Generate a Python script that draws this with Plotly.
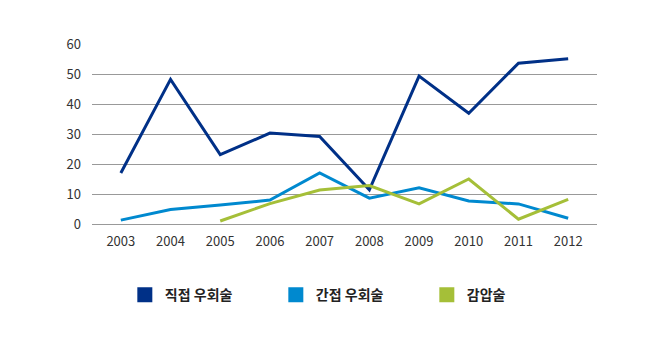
import plotly.graph_objects as go

years = ["2003", "2004", "2005", "2006", "2007", "2008", "2009", "2010", "2011", "2012"]
direct = [17, 48.2, 23.1, 30.3, 29.2, 11.4, 49.3, 36.9, 53.6, 55.1]
indirect = [1.3, 4.8, 6.3, 8.0, 17.0, 8.6, 12.1, 7.7, 6.7, 1.9]
decomp = [None, None, 1.0, 6.8, 11.3, 12.8, 6.7, 15.0, 1.6, 8.2]

names = ["직접 우회술", "간접 우회술", "감압술"]
colors = ["#003087", "#0089CF", "#A5BF38"]
series = [direct, indirect, decomp]

fig = go.Figure()
for n, c, s in zip(names, colors, series):
    fig.add_trace(go.Scatter(x=years, y=s, mode="lines", name=n,
                             line=dict(color=c, width=3), showlegend=False,
                             connectgaps=False))
for n, c in zip(names, colors):
    fig.add_trace(go.Scatter(x=[None], y=[None], mode="markers", name=n,
                             marker=dict(color=c, symbol="square", size=15)))

fig.update_layout(
    width=655, height=343,
    margin=dict(l=92, r=58, t=44, b=119),
    paper_bgcolor="white", plot_bgcolor="white",
    font=dict(family="Noto Sans CJK KR, Open Sans, sans-serif", size=13, color="#333333"),
    xaxis=dict(type="category", range=[-0.58, 9.58], showgrid=False, showline=False,
               ticks="", ticklabelstandoff=8,
               tickfont=dict(size=13, color="#333333")),
    yaxis=dict(range=[0, 60], dtick=10, showgrid=True, gridcolor="#999999",
               gridwidth=1, zeroline=True, zerolinecolor="#999999", zerolinewidth=1,
               showline=False, ticks="", ticklabelstandoff=10,
               tickfont=dict(size=13, color="#333333")),
    legend=dict(orientation="h", x=0.065, xanchor="left", y=-0.395, yanchor="middle",
                font=dict(size=14, color="#222222", weight="bold"), entrywidth=106),
    showlegend=True,
)

fig.write_html("out.html")
